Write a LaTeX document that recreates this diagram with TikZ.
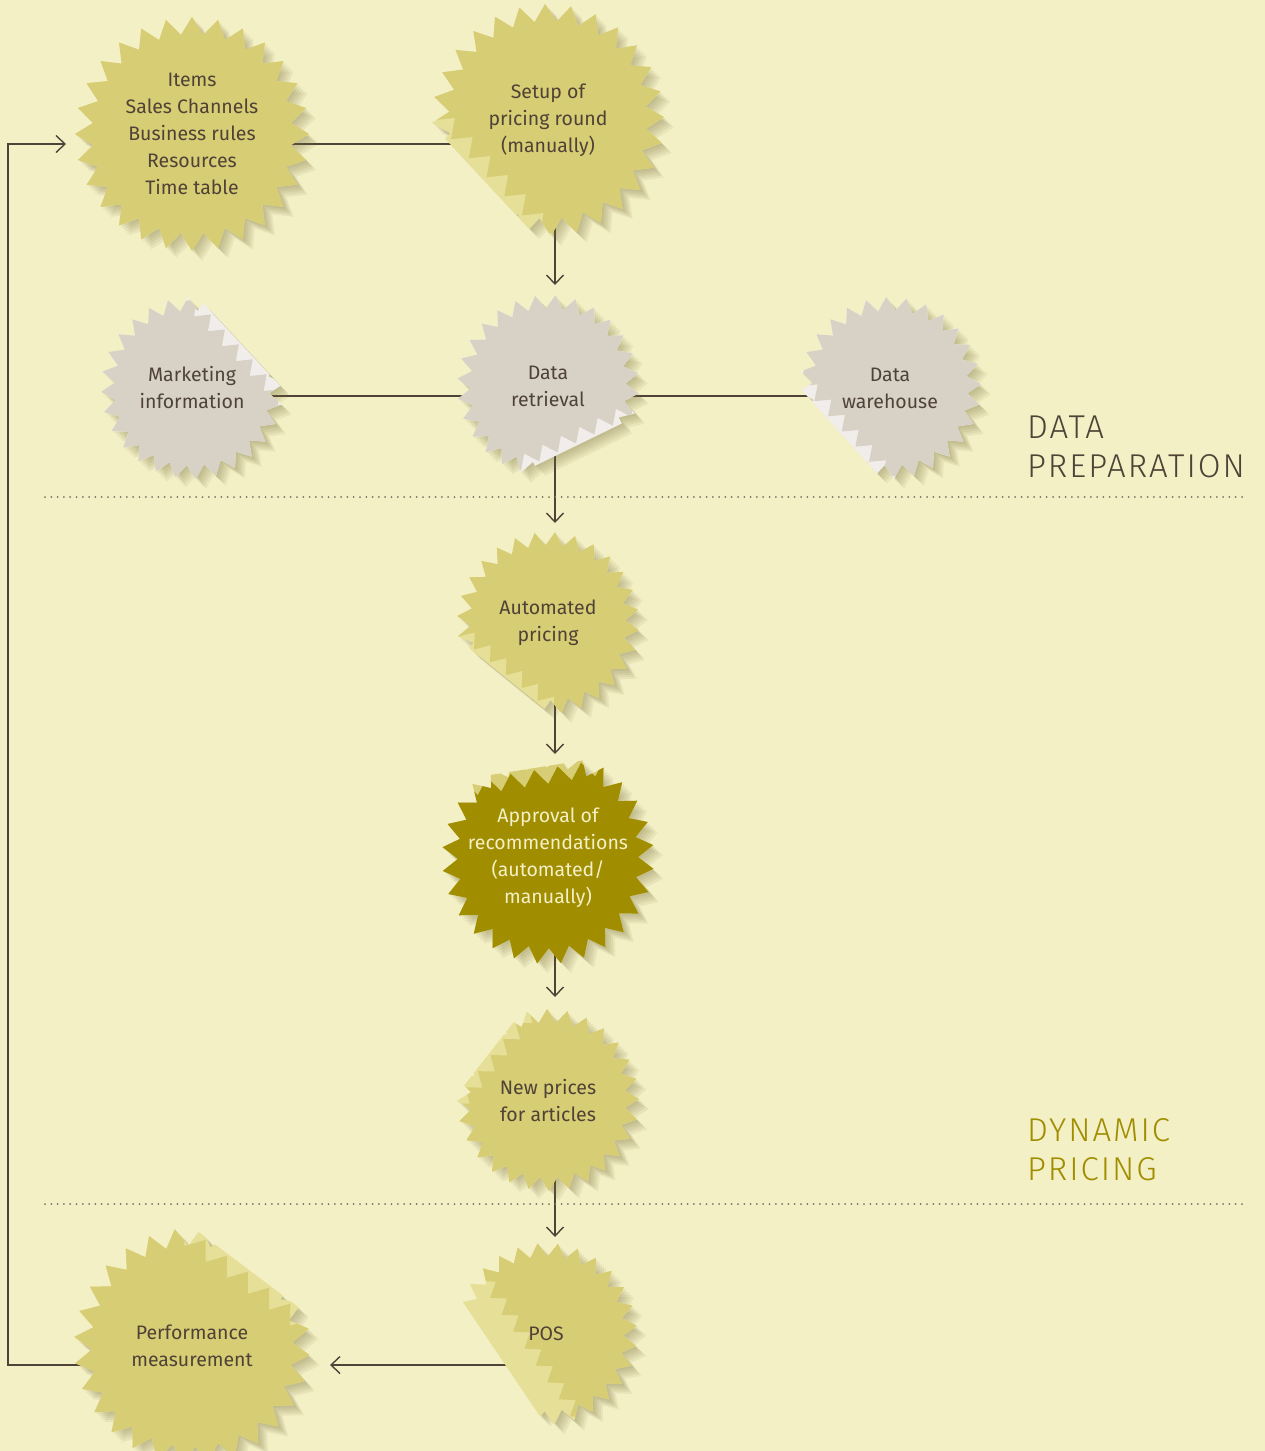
\documentclass[tikz,border=0pt]{standalone}
\usepackage{fontspec}
\setmainfont{Fira Sans}
\newfontfamily\headfont{Fira Sans Light}[LetterSpace=6]
\usetikzlibrary{calc,arrows.meta}

\definecolor{paper}{HTML}{F4F0C6}
\definecolor{inkc}{HTML}{4F4236}
\definecolor{sepc}{HTML}{7D7264}
\definecolor{stkOlive}{HTML}{D7CD74}
\definecolor{stkOliveLt}{HTML}{E6DF98}
\definecolor{stkGray}{HTML}{D8D2C6}
\definecolor{stkGrayLt}{HTML}{F0EDEB}
\definecolor{stkDark}{HTML}{A08D00}
\definecolor{shadowc}{HTML}{786E3C}

\pgfdeclarelayer{wires}
\pgfdeclarelayer{stickers}
\pgfsetlayers{wires,stickers,main}

%Contorno de la estrella: radio, giro
\newcommand\burst[2]{plot[domain=0:55,samples=56,variable=\q]
  ({#1*(0.925+0.075*cos(180*\q))*cos(\q*6.428571+#2)},{#1*(0.925+0.075*cos(180*\q))*sin(\q*6.428571+#2)}) -- cycle}

%Etiqueta: nodo, radio, color, color pliegue, angulo pliegue, corte, hueco, giro
\newcommand\sticker[8]{%
  \begin{scope}[shift={(#1)},rotate=-#5]
    %sombra
    \foreach \s in {2,4,...,10}{
      \begin{scope}[shift={({\s*(cos(#5)+sin(#5))},{\s*(cos(#5)-sin(#5))})}]
        \clip ({-2*#2},{-2*#2}) -- ({#6},{-2*#2}) -- ({#6},{2*#2}) -- ({-2*#2},{2*#2}) -- cycle;
        \fill[shadowc,opacity=0.09] \burst{#2}{#8};
      \end{scope}
    }
    %pliegue
    \begin{scope}
      \clip ({-2*#2},{-2*#2}) -- ({#6},{-2*#2}) -- ({#6},{2*#2}) -- ({-2*#2},{2*#2}) -- cycle;
      \fill[#4] \burst{#2}{#8};
    \end{scope}
    %estrella
    \begin{scope}
      \clip ({-2*#2},{-2*#2}) -- ({#6-#7-0.15*#2},{-2*#2})
        \foreach \j in {-12,...,12}{ -- ({#6-#7-0.15*#2+0.15*#2*(0.5+0.5*cos(180*\j))},{\j*#2*0.1122}) }
        -- ({#6-#7-0.15*#2},{2*#2}) -- ({-2*#2},{2*#2}) -- cycle;
      \fill[#3] \burst{#2}{#8};
    \end{scope}
  \end{scope}}

\begin{document}
\begin{tikzpicture}[x=1pt,y=-1pt,
  wire/.style={line width=1.4pt,draw=inkc},
  arr/.style={wire,-{Straight Barb[length=9pt,width=17pt]}},
  lbl/.style={align=center,text=inkc,inner sep=0pt,font=\fontsize{19.5}{27}\selectfont},
  sectitle/.style={align=left,anchor=north west,inner sep=0pt,font=\headfont\fontsize{33}{39}\selectfont},
  sep/.style={draw=sepc,line width=2pt,line cap=round,dash pattern=on 0pt off 6.3pt}]

\useasboundingbox (0,0) rectangle (1265,1451);
\begin{pgfonlayer}{wires}
  \fill[paper] (0,0) rectangle (1265,1451);
\end{pgfonlayer}

%Textos
\node[lbl] (items) at (192,134) {Items\\Sales Channels\\Business rules\\Resources\\Time table};
\node[lbl] (setup) at (548,120) {Setup of\\pricing round\\(manually)};
\node[lbl] (mkt) at (192,388) {Marketing\\information};
\node[lbl] (retr) at (548,386) {Data\\retrieval};
\node[lbl] (wh) at (890,388) {Data\\warehouse};
\node[lbl] (auto) at (548,623) {Automated\\pricing};
\node[lbl,text=paper] (appr) at (548,858) {Approval of\\recommendations\\(automated/\\manually)};
\node[lbl] (newp) at (548,1100) {New prices\\for articles};
\node[lbl] (pos) at (546,1334) {POS};
\node[lbl] (perf) at (192,1346) {Performance\\measurement};

%Estrellas
\begin{pgfonlayer}{stickers}
\sticker{items}{117}{stkOlive}{stkOliveLt}{0}{300}{0}{0}
\sticker{setup}{116}{stkOlive}{stkOliveLt}{137}{88}{4}{3}
\sticker{mkt}{91}{stkGray}{stkGrayLt}{317}{66}{2}{2}
\sticker{retr}{91}{stkGray}{stkGrayLt}{64}{66}{2}{5}
\sticker{wh}{91}{stkGray}{stkGrayLt}{138}{67}{2}{1}
\sticker{auto}{91}{stkOlive}{stkOliveLt}{129}{69}{2}{4}
\sticker{appr}{106}{stkDark}{stkOlive}{261}{91}{2}{2}
\sticker{newp}{91}{stkOlive}{stkOliveLt}{218}{75}{2}{0}
\sticker{pos}{91}{stkOlive}{stkOliveLt}{146}{51}{25}{3}
\sticker{perf}{118}{stkOlive}{stkOliveLt}{307}{95}{2}{6}
\end{pgfonlayer}

%Conexiones
\begin{pgfonlayer}{wires}
\coordinate (rail) at (8,700);
\draw[wire] ($(items)+(0,10)$) -- ($(setup)+(0,24)$);
\draw[arr] ($(perf)+(0,19)$) -| (rail) |- ($(items)+(-126,10)$);
\draw[arr] ($(setup)+(7,0)$) -- ($(retr)+(7,-101)$);
\draw[wire] ($(mkt)+(0,8)$) -- ($(wh)+(0,8)$);
\draw[arr] ($(retr)+(7,0)$) -- ($(auto)+(7,-100)$);
\draw[arr] ($(auto)+(7,0)$) -- ($(appr)+(7,-104)$);
\draw[arr] ($(appr)+(7,0)$) -- ($(newp)+(7,-103)$);
\draw[arr] ($(newp)+(7,0)$) -- ($(pos)+(9,-97)$);
\draw[arr] ($(pos)+(0,31)$) -- ($(perf)+(138,19)$);
\end{pgfonlayer}

%Separadores
\draw[sep] (45,497) -- (1245,497);
\draw[sep] (45,1204) -- (1245,1204);
\node[sectitle,text=inkc] (prep) at (1027,416) {DATA\\PREPARATION};
\node[sectitle,text=stkDark] (dyn) at (1027,1118) {DYNAMIC\\PRICING};
\end{tikzpicture}
\end{document}
